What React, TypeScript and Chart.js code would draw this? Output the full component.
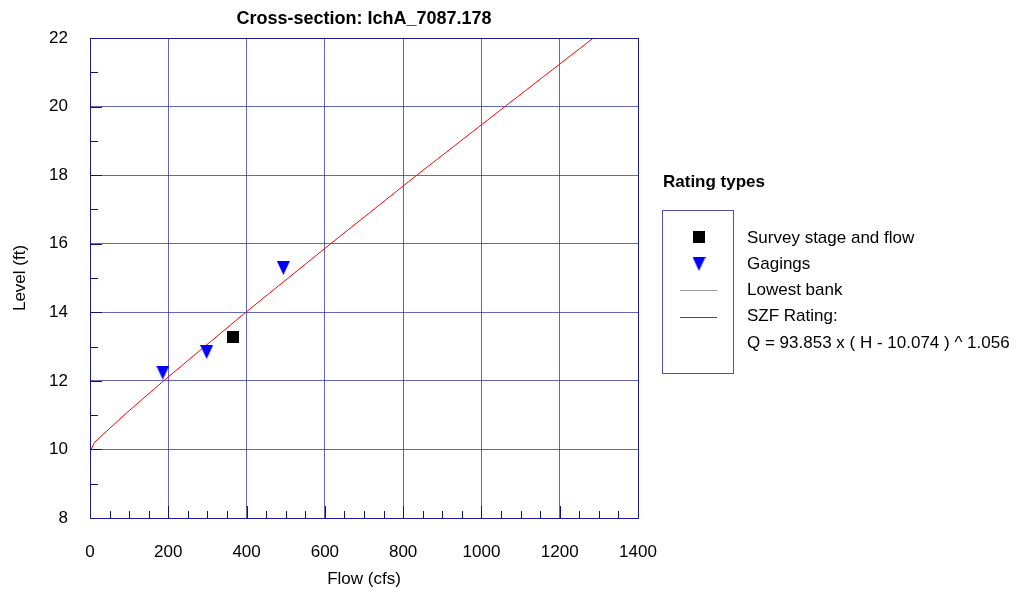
import React, { useEffect, useRef } from "react";
import { Chart, registerables } from "chart.js";

Chart.register(...registerables);

const chartTitle = "Cross-section: IchA_7087.178";
const xAxisTitle = "Flow (cfs)";
const yAxisTitle = "Level (ft)";
const xTickValues = [0, 200, 400, 600, 800, 1000, 1200, 1400];
const yTickValues = [8, 10, 12, 14, 16, 18, 20, 22];

const surveyFlow = [366];
const surveyLevel = [13.27];
const gagingFlow = [186, 298, 494];
const gagingLevel = [12.24, 12.84, 15.29];
const ratingFlow = [0, 11, 87, 188, 398, 615, 835, 1060, 1286];
const ratingLevel = [9.93, 10.2, 11, 12, 14, 16, 18, 20, 22];

const legendTitle = "Rating types";
const legendLabels = [
  "Survey stage and flow",
  "Gagings",
  "Lowest bank",
  "SZF Rating:",
  "Q = 93.853 x ( H - 10.074 ) ^ 1.056",
];

const FONT = '"Liberation Sans", Arial, Helvetica, sans-serif';
const NAVY = "#1a1a8c";
const GRID = "rgba(50,50,165,0.75)";

function makeSquare(): HTMLCanvasElement {
  const c = document.createElement("canvas");
  c.width = 12;
  c.height = 12;
  const g = c.getContext("2d")!;
  g.fillStyle = "#000000";
  g.fillRect(0, 0, 12, 12);
  return c;
}

function makeTriangle(): HTMLCanvasElement {
  const c = document.createElement("canvas");
  c.width = 13;
  c.height = 14;
  const g = c.getContext("2d")!;
  g.fillStyle = "#0000ff";
  g.beginPath();
  g.moveTo(0, 0);
  g.lineTo(13, 0);
  g.lineTo(6.5, 14);
  g.closePath();
  g.fill();
  return c;
}

export default function App() {
  const ref = useRef<HTMLCanvasElement | null>(null);

  useEffect(() => {
    const canvas = ref.current;
    if (!canvas) return;
    const sq = makeSquare();
    const tri = makeTriangle();

    const decor = {
      id: "decor",
      afterDraw(chart: any) {
        const ctx = chart.ctx as CanvasRenderingContext2D;
        const { left, right, top, bottom } = chart.chartArea;
        const xs = chart.scales.x;
        const ys = chart.scales.y;
        ctx.save();
        // frame
        ctx.strokeStyle = NAVY;
        ctx.lineWidth = 1;
        ctx.strokeRect(Math.round(left) + 0.5, Math.round(top) + 0.5, Math.round(right - left), Math.round(bottom - top));
        // minor/major ticks
        ctx.strokeStyle = "#10107a";
        ctx.beginPath();
        for (let v = 50; v < 1400; v += 50) {
          const px = Math.round(xs.getPixelForValue(v)) + 0.5;
          const len = v % 200 === 0 ? 12 : 7;
          ctx.moveTo(px, bottom);
          ctx.lineTo(px, bottom - len);
        }
        for (let v = 9; v < 22; v += 1) {
          const py = Math.round(ys.getPixelForValue(v)) + 0.5;
          const len = v % 2 === 0 ? 12 : 8;
          ctx.moveTo(left, py);
          ctx.lineTo(left + len, py);
        }
        ctx.stroke();

        // title
        ctx.fillStyle = "#000";
        ctx.textBaseline = "alphabetic";
        ctx.textAlign = "center";
        ctx.font = `bold 18px ${FONT}`;
        ctx.fillText(chartTitle, (left + right) / 2, 24);

        // legend
        ctx.textAlign = "left";
        ctx.font = `bold 17px ${FONT}`;
        ctx.fillText(legendTitle, 663, 187);
        ctx.strokeStyle = "#5050b0";
        ctx.strokeRect(662.5, 210.5, 71, 163);
        ctx.font = `17px ${FONT}`;
        legendLabels.forEach((t, i) => {
          ctx.fillText(t, 747, 242.5 + 26.3 * i);
        });
        ctx.drawImage(sq, 692.5, 231);
        ctx.drawImage(tri, 692.5, 257);
        ctx.fillStyle = "#9a9a9a";
        ctx.fillRect(680, 290, 37, 1);
        ctx.fillStyle = "#ff0000";
        ctx.fillRect(680, 317, 37, 1);
        ctx.restore();
      },
    };

    const chart = new Chart(canvas, {
      type: "scatter",
      data: {
        datasets: [
          {
            label: "Survey stage and flow",
            data: surveyFlow.map((x, i) => ({ x, y: surveyLevel[i] })),
            pointStyle: sq as any,
            pointRadius: 6,
            showLine: false,
          },
          {
            label: "Gagings",
            data: gagingFlow.map((x, i) => ({ x, y: gagingLevel[i] })),
            pointStyle: tri as any,
            pointRadius: 7,
            showLine: false,
          },
          {
            label: "SZF Rating",
            data: ratingFlow.map((x, i) => ({ x, y: ratingLevel[i] })),
            showLine: true,
            borderColor: "#ff0000",
            borderWidth: 1,
            pointRadius: 0,
            tension: 0,
          },
        ],
      },
      options: {
        animation: false,
        responsive: false,
        events: [],
        layout: { padding: { left: 0, top: 38, right: 391, bottom: 0 } },
        plugins: {
          legend: { display: false },
          title: { display: false },
          tooltip: { enabled: false },
        },
        scales: {
          x: {
            type: "linear",
            min: 0,
            max: 1400,
            afterBuildTicks: (s: any) => {
              s.ticks = xTickValues.map((v) => ({ value: v }));
            },
            afterFit: (s: any) => {
              s.height = 78;
            },
            ticks: {
              color: "#000",
              font: { family: FONT, size: 17 },
              padding: 24,
              maxRotation: 0,
              autoSkip: false,
              callback: (v: any) => String(v),
            },
            grid: { color: GRID, lineWidth: 1, drawTicks: false },
            border: { display: false },
            title: {
              display: true,
              text: xAxisTitle,
              color: "#000",
              font: { family: FONT, size: 17 },
              padding: { top: 0, bottom: 6 },
            },
          },
          y: {
            type: "linear",
            min: 8,
            max: 22,
            afterBuildTicks: (s: any) => {
              s.ticks = yTickValues.map((v) => ({ value: v }));
            },
            afterFit: (s: any) => {
              s.width = 90;
            },
            ticks: {
              color: "#000",
              font: { family: FONT, size: 17 },
              padding: 22,
              autoSkip: false,
              callback: (v: any) => String(v),
            },
            grid: { color: GRID, lineWidth: 1, drawTicks: false },
            border: { display: false },
            title: {
              display: true,
              text: yAxisTitle,
              color: "#000",
              font: { family: FONT, size: 17 },
              padding: { top: 10, bottom: 0 },
            },
          },
        },
      },
      plugins: [decor],
    } as any);

    return () => chart.destroy();
  }, []);

  return (
    <div style={{ position: "fixed", left: 0, top: 0, width: 1029, height: 596, background: "#fff" }}>
      <canvas ref={ref} width={1029} height={596} style={{ display: "block" }} />
    </div>
  );
}
